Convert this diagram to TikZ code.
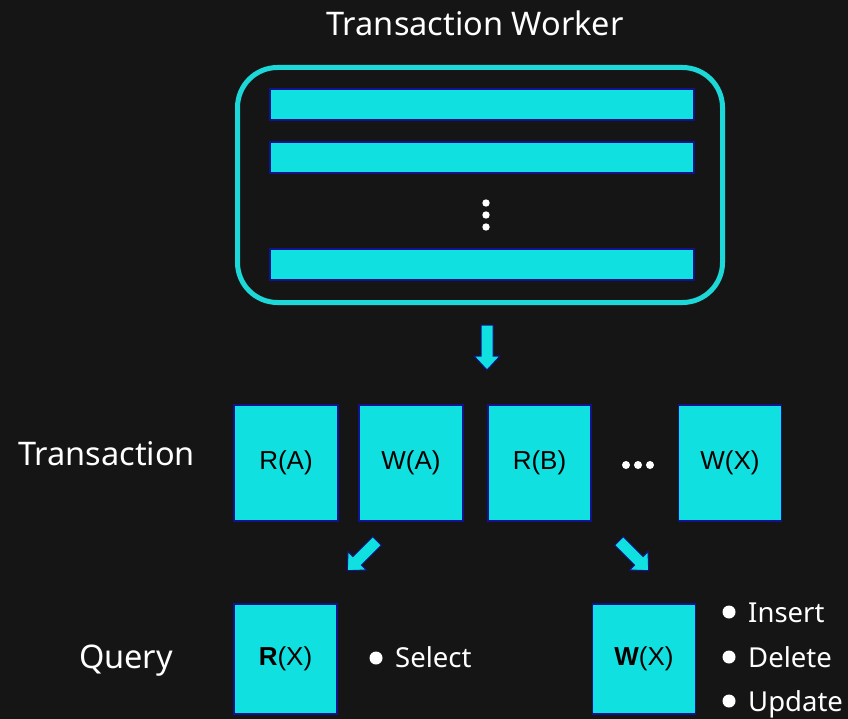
\documentclass[tikz,border=0pt]{standalone}
\usepackage{fontspec}
\setmainfont{Noto Sans}
\newfontfamily\boxfont{Liberation Sans}
\definecolor{bg}{HTML}{151515}
\definecolor{cyanfill}{HTML}{10E0E0}
\definecolor{cyanline}{HTML}{1CD8D8}
\definecolor{navy}{HTML}{12128C}
\begin{document}
\begin{tikzpicture}[x=1pt,y=-1pt,
  bar/.style={draw=navy, line width=1.5pt, fill=cyanfill, minimum width=424pt,
    minimum height=31pt, inner sep=0pt},
  opbox/.style={draw=navy, line width=1.5pt, fill=cyanfill, minimum width=103pt,
    minimum height=116pt, inner sep=0pt, text=black,
    font=\boxfont\fontsize{26}{30}\selectfont},
  biglabel/.style={text=white, inner sep=0pt, font=\fontsize{32.5}{38}\selectfont},
  item/.style={text=white, inner sep=0pt, anchor=base west,
    font=\fontsize{27.5}{32}\selectfont},
  bulletdot/.style={fill=white, draw=none},
  blockarrow/.style={fill=cyanfill, draw=navy, line width=1pt, line join=miter}]
% canvas
\fill[bg] (0,0) rectangle (848,719);
\useasboundingbox (0,0) rectangle (848,719);

% transaction worker
\node[biglabel, anchor=base] (title) at (475,36) {Transaction Worker};
\node[draw=cyanline, line width=5pt, rounded corners=40pt, minimum width=485pt,
  minimum height=235pt, inner sep=0pt] (worker) at (480,185) {};
\node[bar] (bar1) at (482,104.5) {};
\node[bar] (bar2) at (482,157.5) {};
\node[bar] (bar3) at (482,264.5) {};
\foreach \y in {203,215,227} \fill[white] (486,\y) circle (3.7pt);

% arrow down to the transaction
\draw[blockarrow] (481,325) -- (493,325) -- (493,356) -- (500,356) -- (487,370)
  -- (474,356) -- (481,356) -- cycle;

% transaction
\node[biglabel, anchor=base west] (txlabel) at (18,465) {Transaction};
\node[opbox, minimum width=104pt] (ra) at (286,463) {R(A)};
\node[opbox, minimum width=104pt] (wa) at (411,463) {W(A)};
\node[opbox] (rb) at (539.5,463) {R(B)};
\node[opbox] (wx) at (730,463) {W(X)};
\foreach \x in {626,638,650} \fill[white] (\x,465) circle (4pt);

% diagonal arrows towards the queries
\begin{scope}[shift={(377,541)}, rotate=-45]
  \draw[blockarrow] (-6,0) -- (6,0) -- (6,28) -- (13,28) -- (0,42) -- (-13,28)
    -- (-6,28) -- cycle;
\end{scope}
\begin{scope}[shift={(619,541)}, rotate=45]
  \draw[blockarrow] (-6,0) -- (6,0) -- (6,28) -- (13,28) -- (0,42) -- (-13,28)
    -- (-6,28) -- cycle;
\end{scope}

% queries
\node[biglabel, anchor=base west] (qlabel) at (79,668) {Query};
\node[opbox, minimum height=110pt] (rq) at (285.5,659) {\textbf{R}(X)};
\node[opbox, minimum height=110pt] (wq) at (644,659) {\textbf{W}(X)};

\fill[bulletdot] (376,658) circle (6.5pt);
\node[item] (sel) at (395,667) {Select};
\fill[bulletdot] (729,612) circle (6.5pt);
\node[item] (ins) at (748,622) {Insert};
\fill[bulletdot] (729,657) circle (6.5pt);
\node[item] (del) at (748,667) {Delete};
\fill[bulletdot] (729,701) circle (6.5pt);
\node[item] (upd) at (748,711) {Update};
\end{tikzpicture}
\end{document}
